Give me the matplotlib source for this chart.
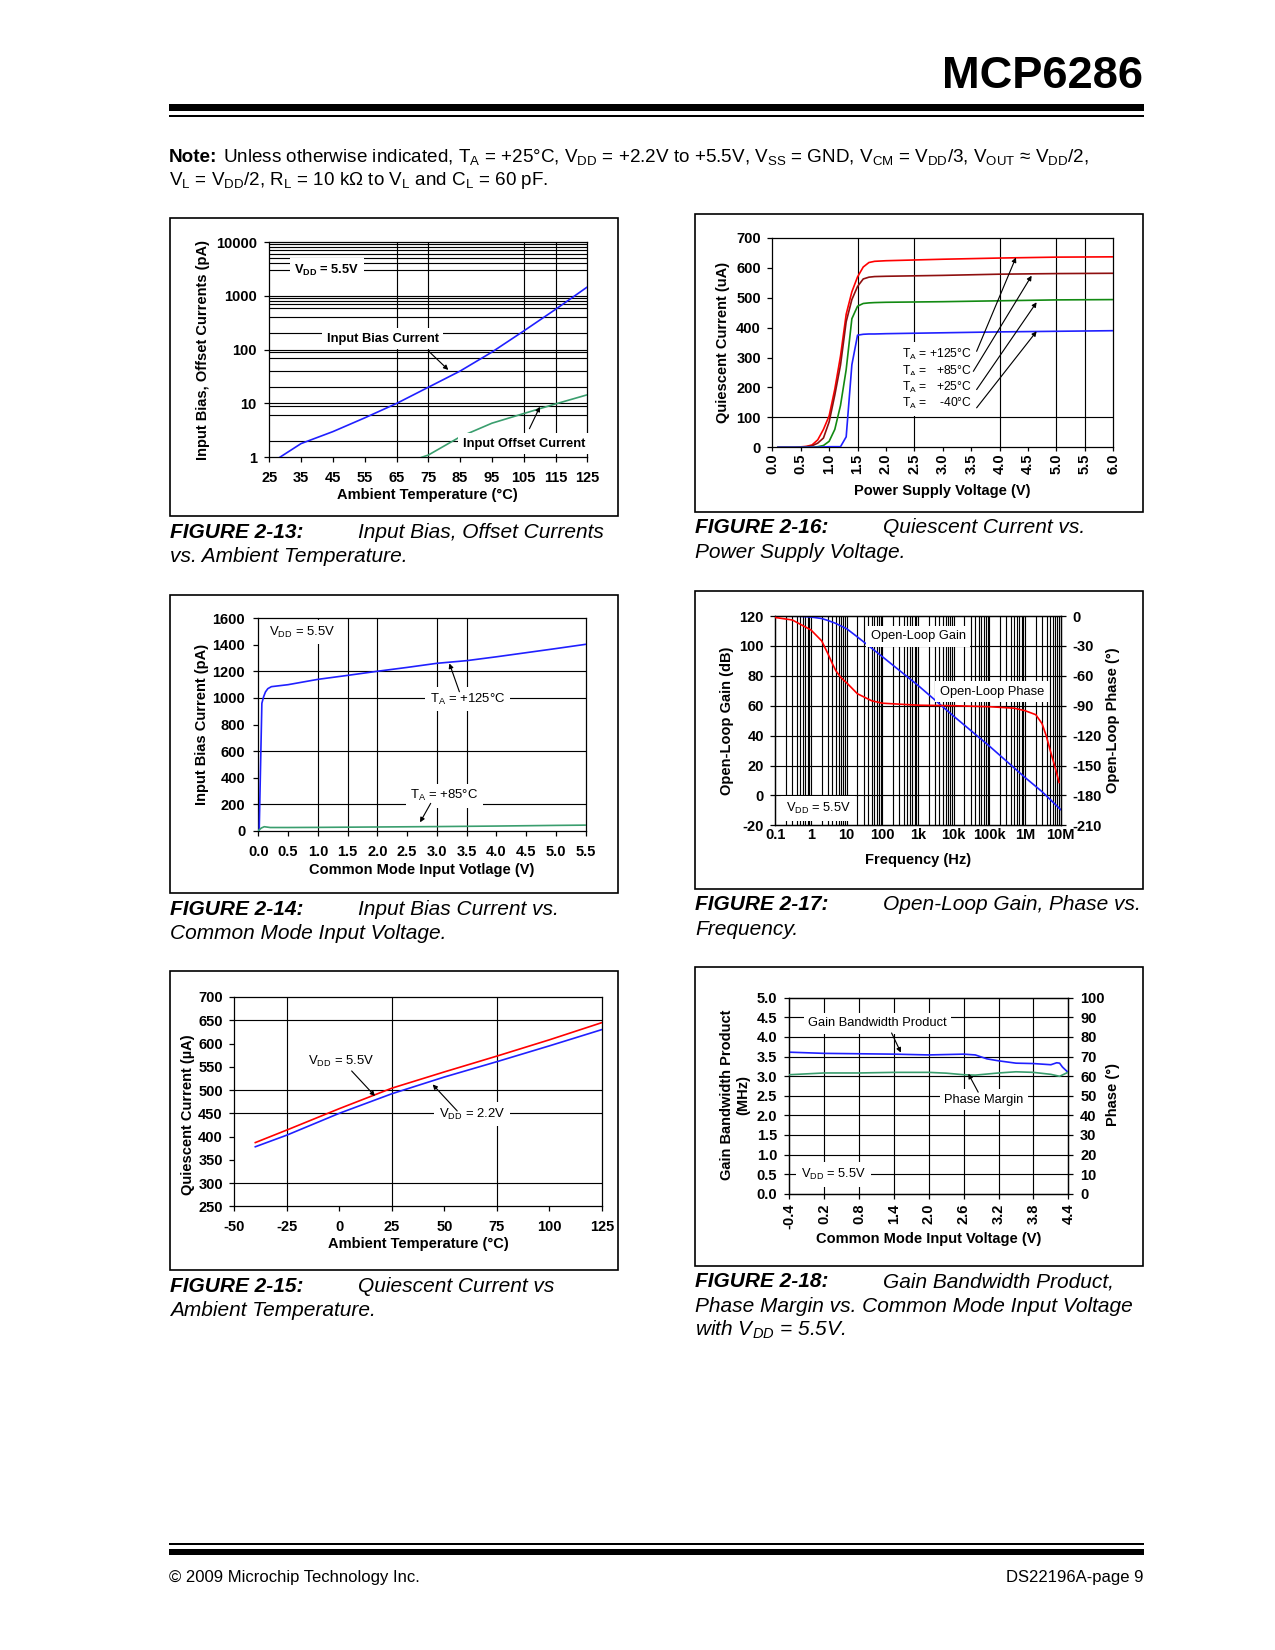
import numpy as np
import matplotlib
matplotlib.use('Agg')
import matplotlib.pyplot as plt
from matplotlib import font_manager
from matplotlib.patches import Rectangle
from matplotlib.ticker import NullLocator

W, H, DPI = 1275, 1650, 150

# ---- chart data ------------------------------------------------------------
# FIGURE 2-13: input bias / offset current vs ambient temperature (pA)
f13_bias_temp = [28.3, 35, 45, 55, 65, 75, 85, 95, 105, 115, 125]
f13_bias_pa = [1.0, 1.8, 3.0, 5.4, 10, 20, 40, 90, 222, 560, 1460]
f13_offset_temp = [72.9, 75, 85, 95, 105, 115, 125]
f13_offset_pa = [1.0, 1.1, 2.4, 4.3, 6.5, 9.8, 14.5]

# FIGURE 2-16: quiescent current vs power supply voltage (uA)
f16_vdd = [0.1, 0.4, 0.6, 0.7, 0.8, 0.9, 1.0, 1.1, 1.2, 1.3, 1.4, 1.5, 1.6, 1.7, 1.8, 2.0, 3.0, 4.0, 5.0, 6.0]
f16_iq_125 = [0, 0, 3, 8, 25, 60, 105, 195, 305, 445, 520, 570, 603, 618, 622, 624, 629, 633, 636, 637]
f16_iq_85 = [0, 0, 2, 5, 14, 31, 85, 175, 275, 420, 494, 538, 563, 569, 571, 572, 575, 579, 581, 582]
f16_iq_25 = [0, 0, 0, 0, 2, 6, 20, 60, 140, 260, 430, 472, 481, 483, 484, 485, 487, 490, 493, 494]
f16_iq_m40 = [0, 0, 0, 0, 0, 1, 2, 2, 2, 35, 276, 375, 378, 379, 379, 380, 383, 386, 388, 390]
f16_temps = ['= +125°C', '=   +85°C', '=   +25°C', '=    -40°C']

# FIGURE 2-14: input bias current vs common mode input voltage (pA)
f14_vcm_125 = [0.0, 0.015, 0.06, 0.09, 0.12, 0.16, 0.22, 0.5, 1.0, 1.5, 2.0, 2.5, 3.0, 3.5, 4.0, 4.5, 5.0, 5.5]
f14_ib_125 = [0, 0, 960, 1010, 1045, 1070, 1085, 1100, 1140, 1170, 1201, 1230, 1261, 1281, 1310, 1341, 1372, 1404]
f14_vcm_85 = [0.0, 0.05, 0.1, 0.2, 0.5, 1.0, 2.0, 3.0, 4.0, 5.0, 5.5]
f14_ib_85 = [0, 20, 30, 24, 24, 25, 28, 31, 35, 40, 42]

# FIGURE 2-17: open-loop gain (dB) and phase (deg) vs frequency (Hz)
f17_freq_gain = [0.1, 0.5, 1, 2, 3, 5, 10, 20, 50, 100, 1e3, 1e4, 1e5, 1e6, 3e6, 1e7]
f17_gain = [120, 119.8, 119.3, 118.3, 117, 115, 111.5, 106, 98.5, 92.8, 73.6, 53, 33, 12, 2.5, -9.5]
f17_freq_phase = [0.1, 0.3, 1, 2, 3, 4, 5, 7, 10, 20, 50, 100, 1e3, 1e4, 1e5, 5e5, 1e6, 2e6, 3e6, 4e6, 5e6, 7e6, 9e6]
f17_phase = [-1.5, -4, -14, -25, -38, -48, -55, -62, -67, -78, -85, -87.5, -89.5, -90, -91, -92.5, -95, -99,
             -108, -121, -134, -152, -167]
f17_tick_freq = [0.1, 1, 10, 100, 1e3, 1e4, 1e5, 1e6, 1e7]
f17_tick_text = ['0.1', '1', '10', '100', '1k', '10k', '100k', '1M', '10M']

# FIGURE 2-15: quiescent current vs ambient temperature (uA)
f15_temp = [-40, -25, 0, 25, 50, 75, 100, 125]
f15_iq_55 = [387, 414, 460, 504, 539, 573, 608, 645]
f15_iq_22 = [378, 403, 450, 492, 528, 561, 595, 630]

# FIGURE 2-18: GBWP (MHz) and phase margin (deg) vs common mode input voltage
f18_vcm = [-0.4, 0.2, 0.8, 1.4, 2.0, 2.6, 2.8, 3.0, 3.2, 3.5, 3.8, 4.1, 4.2, 4.25, 4.3, 4.4]
f18_gbw = [3.61, 3.58, 3.57, 3.56, 3.54, 3.56, 3.54, 3.44, 3.39, 3.33, 3.32, 3.29, 3.34, 3.33, 3.23, 3.09]
f18_pm_vcm = [-0.4, 0.2, 0.8, 1.4, 2.0, 2.3, 2.6, 2.8, 3.2, 3.5, 3.8, 4.1, 4.25, 4.4]
f18_pm = [60.7, 61.6, 61.6, 61.9, 61.9, 61.5, 60.7, 60.5, 61.6, 62.2, 61.9, 60.9, 59.9, 62.0]

# ---- style ----------------------------------------------------------------
BLUE = '#2020ff'
RED = '#ff0000'
BROWN = '#8e0f0f'
GREEN = '#128a12'
SEA = '#3a9e6e'
GRID_LW = 0.55

plt.rcParams['font.family'] = ['Liberation Sans', 'DejaVu Sans']
plt.rcParams['font.weight'] = 'bold'
plt.rcParams['axes.unicode_minus'] = False
plt.rcParams['mathtext.fontset'] = 'custom'
plt.rcParams['mathtext.rm'] = 'Liberation Sans'
plt.rcParams['mathtext.it'] = 'Liberation Sans:italic'
plt.rcParams['mathtext.bf'] = 'Liberation Sans:bold'

_names = {f.name for f in font_manager.fontManager.ttflist}
NARROW = 'Liberation Sans Narrow' if 'Liberation Sans Narrow' in _names else 'Liberation Sans'

fig = plt.figure(figsize=(W / DPI, H / DPI), dpi=DPI, facecolor='white')
renderer = fig.canvas.get_renderer()


def fx(x):
    return x / W


def fy(y):
    return 1 - y / H


def text_width(t):
    return t.get_window_extent(renderer).width


def frame(x0, y0, x1, y1):
    fig.add_artist(Rectangle((fx(x0), fy(y1)), (x1 - x0) / W, (y1 - y0) / H,
                             transform=fig.transFigure, fill=False, lw=0.8, ec='black'))


def bar(x0, y0, x1, y1):
    fig.add_artist(Rectangle((fx(x0), fy(y1)), (x1 - x0) / W, (y1 - y0) / H,
                             transform=fig.transFigure, fc='black', lw=0))


def make_axes(x0, y0, x1, y1, xpad=3.5, ypad=3.5):
    ax = fig.add_axes([fx(x0), fy(y1), (x1 - x0) / W, (y1 - y0) / H])
    style(ax, xpad, ypad)
    return ax


def style(ax, xpad, ypad):
    for s in ax.spines.values():
        s.set_linewidth(0.6)
    ax.tick_params(direction='out', length=2.5, width=0.6, labelsize=7)
    ax.tick_params(axis='x', pad=xpad)
    ax.tick_params(axis='y', pad=ypad)


def hgrid(ax, values):
    for v in values:
        ax.axhline(v, color='black', lw=GRID_LW, zorder=1)


def vgrid(ax, values):
    for v in values:
        ax.axvline(v, color='black', lw=GRID_LW, zorder=1)


def set_labels(ax, xlabel, xc, ylabel, yc, ax_right=None, ylabel_r=None, yc_r=None):
    ax.set_xlabel(xlabel, fontsize=7, fontweight='bold')
    ax.xaxis.set_label_coords(*xc)
    ax.xaxis.label.set_va('center')
    ax.set_ylabel(ylabel, fontsize=7, fontweight='bold')
    ax.yaxis.set_label_coords(*yc)
    ax.yaxis.label.set_va('center')
    ax.yaxis.label.set_ha('center')
    if ax_right is not None:
        ax_right.set_ylabel(ylabel_r, fontsize=7, fontweight='bold', rotation=90)
        ax_right.yaxis.set_label_coords(*yc_r)
        ax_right.yaxis.label.set_va('center')
        ax_right.yaxis.label.set_ha('center')


def note(ax, x, y, s, weight='normal', box=True, ha='left', size=6.2, transform=None):
    kw = dict(fontsize=size, fontweight=weight, ha=ha, va='center', zorder=6)
    if box:
        kw['bbox'] = dict(fc='white', ec='none', pad=2.2)
    if transform is not None:
        kw['transform'] = transform
    ax.text(x, y, s, **kw)


def arrow(ax, tail, head, transform=None):
    kw = dict(arrowprops=dict(arrowstyle='-|>', lw=0.55, color='black', mutation_scale=4.5,
                              shrinkA=0, shrinkB=0), zorder=7)
    if transform is not None:
        kw['xycoords'] = transform
        kw['textcoords'] = transform
    ax.annotate('', xy=head, xytext=tail, **kw)


VDD = r'V$_\mathregular{DD}$'
TA = r'T$_\mathregular{A}$'

# ---- page header ----------------------------------------------------------
head = fig.text(fx(1143), fy(88), 'MCP6286', family=NARROW, fontweight='bold',
                fontsize=26, ha='right', va='baseline')
hw = text_width(head)
head.set_fontsize(head.get_fontsize() * 201 / hw)
bar(169, 104, 1144, 111)
bar(169, 115, 1144, 117)

note1 = fig.text(fx(169), fy(162), 'Note:', family=NARROW, fontweight='bold',
                 fontsize=10, va='baseline')
rest1 = (r'Unless otherwise indicated, ' + TA + r' = +25°C, ' + VDD + r' = +2.2V to +5.5V, '
         r'V$_\mathregular{SS}$ = GND, V$_\mathregular{CM}$ = ' + VDD + r'/3, '
         r'V$_\mathregular{OUT}$ ≈ ' + VDD + r'/2,')
note2 = fig.text(fx(169), fy(162), rest1, family=NARROW, fontweight='normal',
                 fontsize=10, va='baseline')
gap = 0.28 * 10 * DPI / 72
scale = 923 / (text_width(note1) + gap + text_width(note2))
note_size = 10 * scale
note1.set_fontsize(note_size)
note2.set_fontsize(note_size)
note2.set_x(fx(169 + text_width(note1) + 0.28 * note_size * DPI / 72))
fig.text(fx(169), fy(185), r'V$_\mathregular{L}$ = ' + VDD + r'/2, R$_\mathregular{L}$ = 10 kΩ to '
         r'V$_\mathregular{L}$ and C$_\mathregular{L}$ = 60 pF.',
         family=NARROW, fontweight='normal', fontsize=note_size, va='baseline')

# ---- captions -------------------------------------------------------------
captions = [
    (170, 538, 'FIGURE 2-13:', 'Input Bias, Offset Currents', ['vs. Ambient Temperature.']),
    (695, 533, 'FIGURE 2-16:', 'Quiescent Current vs.', ['Power Supply Voltage.']),
    (170, 915, 'FIGURE 2-14:', 'Input Bias Current vs.', ['Common Mode Input Voltage.']),
    (695, 910, 'FIGURE 2-17:', 'Open-Loop Gain, Phase vs.', ['Frequency.']),
    (170, 1292, 'FIGURE 2-15:', 'Quiescent Current vs', ['Ambient Temperature.']),
    (695, 1287, 'FIGURE 2-18:', 'Gain Bandwidth Product,',
     ['Phase Margin vs. Common Mode Input Voltage', 'with ' + VDD + ' = 5.5V.']),
]
for x, y, fig_id, first, more in captions:
    fig.text(fx(x), fy(y), fig_id, fontsize=10, fontweight='bold', style='italic', va='baseline')
    fig.text(fx(x + 188), fy(y), first, fontsize=10, fontweight='normal', style='italic', va='baseline')
    for i, line in enumerate(more):
        fig.text(fx(x), fy(y + 24.5 * (i + 1)), line, fontsize=10, fontweight='normal',
                 style='italic', va='baseline')

# ---- FIGURE 2-13 ----------------------------------------------------------
frame(170, 218, 618, 516)
ax = make_axes(269.3, 242, 587.3, 457.3, xpad=4, ypad=3.5)
ax.set_yscale('log')
ax.set_xlim(25, 125)
ax.set_ylim(1, 10000)
ax.set_xticks(range(25, 126, 10))
ax.set_yticks([1, 10, 100, 1000, 10000], labels=['1', '10', '100', '1000', '10000'])
ax.yaxis.set_minor_locator(NullLocator())
hgrid(ax, [2, 6, 9, 10, 20, 40, 70, 90, 100, 200, 400, 600, 700, 800, 900, 1000,
           3000, 4000, 5000, 6000, 7000, 8000, 9000])
vgrid(ax, [65, 75, 105, 115])
ax.plot(f13_bias_temp, f13_bias_pa, color=BLUE, lw=0.8, zorder=3)
ax.plot(f13_offset_temp, f13_offset_pa, color=SEA, lw=0.8, zorder=3)
note(ax, 32.9, 3000, VDD + ' = 5.5V', weight='bold')
note(ax, 43, 160, 'Input Bias Current', weight='bold')
arrow(ax, (75, 95), (81.3, 42))
note(ax, 85.8, 1.8, 'Input Offset Current', weight='bold')
arrow(ax, (106.8, 3.4), (110.1, 8.7))
set_labels(ax, 'Ambient Temperature (°C)', (0.4975, -0.174),
           'Input Bias, Offset Currents (pA)', (-0.209, 0.5))

# ---- FIGURE 2-16 ----------------------------------------------------------
frame(695, 214, 1143, 512)
ax = make_axes(772.3, 238, 1113.3, 447.3, xpad=1, ypad=3)
ax.set_xlim(0, 6)
ax.set_ylim(0, 700)
xt = np.arange(0, 6.01, 0.5)
ax.set_xticks(xt, labels=[f'{v:.1f}' for v in xt], rotation=90)
ax.tick_params(axis='x', length=2)
ax.set_yticks(range(0, 701, 100))
hgrid(ax, [100])
vgrid(ax, [1.5, 2.5, 4.0, 5.0, 5.5])
for series, col in zip([f16_iq_125, f16_iq_85, f16_iq_25, f16_iq_m40], [RED, BROWN, GREEN, BLUE]):
    ax.plot(f16_vdd, series, color=col, lw=0.8, zorder=3)
for i, t in enumerate(f16_temps):
    note(ax, 2.28, 310 - 55 * i, TA + ' ' + t, size=5.8)
arrow(ax, (3.595, 321), (4.287, 635))
arrow(ax, (3.537, 254), (4.563, 574))
arrow(ax, (3.595, 193), (4.651, 485))
arrow(ax, (3.595, 132), (4.651, 388))
set_labels(ax, 'Power Supply Voltage (V)', (0.499, -0.21),
           'Quiescent Current (uA)', (-0.144, 0.5))

# ---- FIGURE 2-14 ----------------------------------------------------------
frame(170, 595, 618, 893)
ax = make_axes(258.3, 618.3, 585.7, 830.7, xpad=4.2, ypad=3.8)
ax.set_xlim(0, 5.5)
ax.set_ylim(0, 1600)
xt = np.arange(0, 5.51, 0.5)
ax.set_xticks(xt, labels=[f'{v:.1f}' for v in xt])
ax.set_yticks(range(0, 1601, 200))
hgrid(ax, [200, 600, 1000, 1200])
vgrid(ax, [1.0, 1.5, 2.0, 3.0, 3.5])
ax.plot(f14_vcm_125, f14_ib_125, color=BLUE, lw=0.8, zorder=3)
ax.plot(f14_vcm_85, f14_ib_85, color=SEA, lw=0.8, zorder=3)
note(ax, 0.185, 1495, VDD + ' = 5.5V', size=6.3)
note(ax, 2.885, 990, TA + ' = +125°C', size=6.3)
arrow(ax, (3.378, 1047), (3.21, 1260))
note(ax, 2.55, 263, TA + ' = +85°C', size=6.3)
arrow(ax, (2.896, 206), (2.717, 63))
set_labels(ax, 'Common Mode Input Votlage (V)', (0.499, -0.185),
           'Input Bias Current (pA)', (-0.173, 0.5))

# ---- FIGURE 2-17 ----------------------------------------------------------
frame(695, 591, 1143, 889)
ax = make_axes(775.3, 616, 1060.7, 825.3, xpad=1.5, ypad=3)
ax.set_xscale('log')
ax.set_xlim(0.1, 1e7)
ax.set_ylim(-20, 120)
ax.set_xticks(f17_tick_freq, labels=f17_tick_text)
ax.xaxis.set_minor_locator(NullLocator())
ax.tick_params(axis='x', length=0)
ax.set_yticks(range(-20, 121, 20))
hgrid(ax, range(0, 101, 20))
vgrid(ax, [m * 10.0 ** k for k in range(-1, 7) for m in range(1, 10)][1:])
ax.plot(f17_freq_gain, f17_gain, color=BLUE, lw=0.8, zorder=3)
ax2 = ax.twinx()
style(ax2, 1.5, 3)
ax2.set_ylim(-210, 0)
ax2.set_yticks(range(-210, 1, 30))
ax2.plot(f17_freq_phase, f17_phase, color=RED, lw=0.8, zorder=3)
note(ax2, 48, 106.6, 'Open-Loop Gain', transform=ax.transData)
note(ax2, 4100, 69.2, 'Open-Loop Phase', transform=ax.transData)
note(ax2, 0.195, -8.8, VDD + ' = 5.5V', transform=ax.transData)
set_labels(ax, 'Frequency (Hz)', (0.499, -0.167), 'Open-Loop Gain (dB)', (-0.170, 0.5),
           ax2, 'Open-Loop Phase (°)', (1.184, 0.5))

# ---- FIGURE 2-15 ----------------------------------------------------------
frame(170, 971, 618, 1270)
ax = make_axes(234.3, 997, 602, 1206.3, xpad=4.2, ypad=3)
ax.set_xlim(-50, 125)
ax.set_ylim(250, 700)
ax.set_xticks(range(-50, 126, 25))
ax.set_yticks(range(250, 701, 50))
hgrid(ax, [300, 450, 500, 650])
vgrid(ax, [-25, 25, 75])
ax.plot(f15_temp, f15_iq_55, color=RED, lw=0.8, zorder=3)
ax.plot(f15_temp, f15_iq_22, color=BLUE, lw=0.8, zorder=3)
note(ax, -15.1, 562, VDD + ' = 5.5V', box=False, size=6.3)
arrow(ax, (5.85, 541), (16.95, 487))
note(ax, 47.4, 447.8, VDD + ' = 2.2V', size=6.3)
arrow(ax, (56.1, 455), (44.4, 512))
set_labels(ax, 'Ambient Temperature (°C)', (0.5, -0.179),
           'Quiescent Current (µA)', (-0.125, 0.44))

# ---- FIGURE 2-18 ----------------------------------------------------------
frame(695, 967, 1143, 1266)
ax = make_axes(789.3, 997.7, 1068.3, 1193.7, xpad=2.3, ypad=3.3)
ax.set_xlim(-0.4, 4.4)
ax.set_ylim(0, 5)
xt = np.arange(-0.4, 4.41, 0.6)
ax.set_xticks(xt, labels=[f'{v:.1f}' for v in xt], rotation=90)
yt = np.arange(0, 5.01, 0.5)
ax.set_yticks(yt, labels=[f'{v:.1f}' for v in yt])
hgrid(ax, yt[1:-1])
vgrid(ax, xt[1:-1])
ax.plot(f18_vcm, f18_gbw, color=BLUE, lw=0.8, zorder=3)
ax2 = ax.twinx()
style(ax2, 2.3, 3.2)
ax2.set_ylim(0, 100)
ax2.set_yticks(range(0, 101, 10))
ax2.plot(f18_pm_vcm, f18_pm, color=SEA, lw=0.8, zorder=3)
note(ax2, -0.073, 4.354, 'Gain Bandwidth Product', transform=ax.transData)
arrow(ax2, (1.36, 4.10), (1.52, 3.60), transform=ax.transData)
note(ax2, 2.266, 2.40, 'Phase Margin', transform=ax.transData)
arrow(ax2, (2.85, 2.59), (2.68, 3.06), transform=ax.transData)
note(ax2, -0.2, 0.49, VDD + ' = 5.5V', transform=ax.transData)
set_labels(ax, 'Common Mode Input Voltage (V)', (0.5, -0.23),
           'Gain Bandwidth Product\n(MHz)', (-0.193, 0.506),
           ax2, 'Phase (°)', (1.161, 0.506))

# ---- footer ---------------------------------------------------------------
bar(169, 1543, 1144, 1545)
bar(169, 1549, 1144, 1555)
foot_l = fig.text(fx(169), fy(1582), '© 2009 Microchip Technology Inc.', family=NARROW,
                  fontweight='normal', fontsize=10, va='baseline')
foot_size = 10 * 251 / text_width(foot_l)
foot_l.set_fontsize(foot_size)
fig.text(fx(1144), fy(1582), 'DS22196A-page 9', family=NARROW, fontweight='normal',
         fontsize=foot_size, ha='right', va='baseline')

fig.savefig('out.png', dpi=DPI, facecolor='white')
